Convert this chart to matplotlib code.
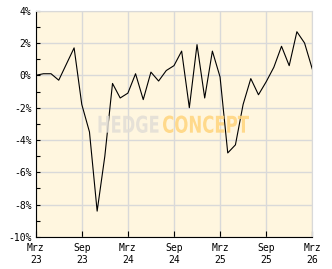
import matplotlib
matplotlib.use("Agg")
import matplotlib.pyplot as plt
from matplotlib.ticker import MultipleLocator, FuncFormatter
from matplotlib.textpath import TextPath
from matplotlib.patches import PathPatch
from matplotlib.font_manager import FontProperties
from matplotlib.transforms import Affine2D

# monthly values, Mrz 23 .. Mrz 26
months = list(range(37))
values = [0.0, 0.1, 0.1, -0.3, 0.7, 1.7, -1.8, -3.5, -8.4, -5.0, -0.5, -1.4,
          -1.1, 0.1, -1.5, 0.2, -0.35, 0.3, 0.6, 1.5, -2.0, 1.9, -1.4, 1.5,
          -0.1, -4.8, -4.3, -1.8, -0.2, -1.2, -0.4, 0.5, 1.8, 0.6, 2.7, 2.0, 0.4]
tick_pos = [0, 6, 12, 18, 24, 30, 36]
tick_labels = ["Mrz\n23", "Sep\n23", "Mrz\n24", "Sep\n24", "Mrz\n25", "Sep\n25", "Mrz\n26"]

W, H = 332, 269
fig = plt.figure(figsize=(W / 100, H / 100), dpi=100)
ax = fig.add_axes([0.1075, 0.119, 0.833, 0.8412])
ax.set_facecolor("#fff6df")

ax.plot(months, values, color="black", linewidth=0.8, zorder=3)

ax.set_xlim(0, 36)
ax.set_ylim(-10, 4)
ax.set_xticks(tick_pos)
ax.set_xticklabels(tick_labels)
ax.yaxis.set_major_locator(MultipleLocator(2))
ax.yaxis.set_minor_locator(MultipleLocator(1))
ax.yaxis.set_major_formatter(FuncFormatter(lambda v, p: f"{v:.0f}%"))

ax.grid(True, color="#d9d9d9", linewidth=1.0, zorder=1)
ax.set_axisbelow(True)

for s in ["top", "right"]:
    ax.spines[s].set_color("#d9d9d9")
for s in ["left", "bottom"]:
    ax.spines[s].set_color("black")
    ax.spines[s].set_linewidth(0.8)

ax.tick_params(axis="y", which="both", direction="in", length=3, width=0.8, pad=3,
               labelsize=7, labelfontfamily="DejaVu Sans Mono")
ax.tick_params(axis="x", direction="in", length=4.5, width=0.8, pad=4,
               labelsize=7, labelfontfamily="DejaVu Sans Mono")
for lbl in ax.get_xticklabels():
    lbl.set_linespacing(1.3)


# watermark, squeezed into the box it fills in the picture (pixels from top-left)
def watermark(word, x0, x1, y0, y1, color):
    tp = TextPath((0, 0), word, size=10, prop=FontProperties(family="DejaVu Sans", weight="bold"))
    ext = tp.get_extents()
    sx = (x1 - x0) / W / ext.width
    sy = (y1 - y0) / H / ext.height
    tr = Affine2D().translate(-ext.x0, -ext.y0).scale(sx, sy).translate(x0 / W, 1 - y1 / H)
    patch = PathPatch(tp, transform=tr + fig.transFigure, facecolor=color,
                      edgecolor="none", alpha=0.85, zorder=4)
    ax.add_artist(patch)


watermark("HEDGE", 98.5, 158.5, 115.5, 133, "#e2ded6")
watermark("CONCEPT", 163, 249, 115.5, 133, "#ffd47c")

fig.savefig("out.png", dpi=100)
